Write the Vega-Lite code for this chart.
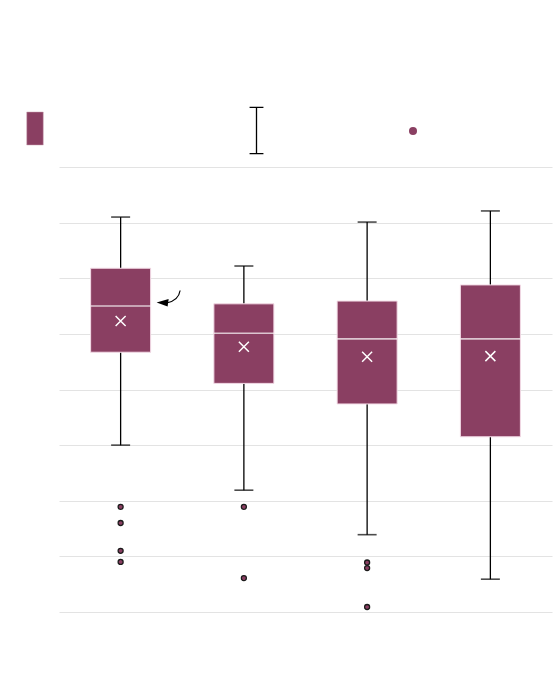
{
  "$schema": "https://vega.github.io/schema/vega-lite/v6.json",
  "width": 493,
  "height": 445,
  "autosize": {"type": "none"},
  "padding": {"left": 59, "top": 167, "right": 8, "bottom": 66},
  "background": "white",
  "config": {"view": {"stroke": null}},
  "datasets": {
    "boxes": [
      {"group": "A", "lo": 3.00, "q1": 4.67, "median": 5.50, "q3": 6.18, "hi": 7.10, "mean": 5.23},
      {"group": "B", "lo": 2.19, "q1": 4.11, "median": 5.01, "q3": 5.54, "hi": 6.22, "mean": 4.77},
      {"group": "C", "lo": 1.39, "q1": 3.74, "median": 4.91, "q3": 5.59, "hi": 7.01, "mean": 4.59},
      {"group": "D", "lo": 0.59, "q1": 3.15, "median": 4.91, "q3": 5.88, "hi": 7.21, "mean": 4.60}
    ],
    "outliers": [
      {"group": "A", "value": 1.89},
      {"group": "A", "value": 1.60},
      {"group": "A", "value": 1.10},
      {"group": "A", "value": 0.90},
      {"group": "B", "value": 1.89},
      {"group": "B", "value": 0.61},
      {"group": "C", "value": 0.89},
      {"group": "C", "value": 0.79},
      {"group": "C", "value": 0.09}
    ]
  },
  "encoding": {
    "x": {"field": "group", "type": "nominal", "axis": null, "scale": {"domain": ["A", "B", "C", "D"], "paddingInner": 0, "paddingOuter": 0}},
    "y": {"type": "quantitative", "scale": {"domain": [0, 8], "nice": false, "zero": true},
      "axis": {"labels": false, "ticks": false, "domain": false, "grid": true, "gridColor": "#e3e3e3", "gridWidth": 1, "values": [0,1,2,3,4,5,6,7,8], "title": null}}
  },
  "layer": [
    {
      "data": {"name": "boxes"},
      "mark": {"type": "rule", "color": "black", "strokeWidth": 1.3},
      "encoding": {
        "y": {"field": "lo", "type": "quantitative"},
        "y2": {"field": "q1"},
        "strokeDash": {"datum": "Whiskers", "scale": {"range": [[1, 0]]},
          "legend": {"orient": "none", "legendX": 180, "legendY": -54, "title": null, "labelExpr": "''",
            "symbolType": "M-0.42,-1.4H0.42M0,-1.4V1.4M-0.42,1.4H0.42", "symbolSize": 1089,
            "symbolStrokeColor": "black", "symbolFillColor": "transparent", "symbolStrokeWidth": 1.3, "symbolDash": [1, 0]}}
      }
    },
    {
      "data": {"name": "boxes"},
      "mark": {"type": "rule", "color": "black", "strokeWidth": 1.3},
      "encoding": {
        "y": {"field": "q3", "type": "quantitative"},
        "y2": {"field": "hi"}
      }
    },
    {
      "data": {"name": "boxes"},
      "mark": {"type": "tick", "color": "black", "thickness": 1.6, "size": 19},
      "encoding": {"y": {"field": "lo", "type": "quantitative"}}
    },
    {
      "data": {"name": "boxes"},
      "mark": {"type": "tick", "color": "black", "thickness": 1.6, "size": 19},
      "encoding": {"y": {"field": "hi", "type": "quantitative"}}
    },
    {
      "data": {"name": "boxes"},
      "mark": {"type": "bar", "width": 60, "stroke": "#f3dbe6", "strokeWidth": 1, "fillOpacity": 1},
      "encoding": {
        "y": {"field": "q1", "type": "quantitative"},
        "y2": {"field": "q3"},
        "color": {"datum": "Box", "scale": {"range": ["#8a3f62"]},
          "legend": {"orient": "none", "legendX": -41, "legendY": -55.5, "title": null, "labelExpr": "''",
            "symbolType": "M-0.5,-1H0.5V1H-0.5Z", "symbolSize": 1089, "symbolFillColor": "#8a3f62",
            "symbolStrokeColor": "#c9a0b3", "symbolStrokeWidth": 0.5}}
      }
    },
    {
      "data": {"name": "boxes"},
      "mark": {"type": "tick", "color": "white", "thickness": 1.6, "size": 60},
      "encoding": {"y": {"field": "median", "type": "quantitative"}}
    },
    {
      "data": {"name": "boxes"},
      "mark": {"type": "point", "shape": "M-1,-1L1,1M-1,1L1,-1", "size": 100, "filled": false, "stroke": "white", "strokeWidth": 1.5, "opacity": 1},
      "encoding": {"y": {"field": "mean", "type": "quantitative"}}
    },
    {
      "data": {"name": "outliers"},
      "mark": {"type": "point", "filled": true, "fill": "#8a3f62", "stroke": "#1a1a1a", "strokeWidth": 1.3, "size": 25, "opacity": 1},
      "encoding": {
        "y": {"field": "value", "type": "quantitative"},
        "shape": {"datum": "Outliers", "scale": {"range": ["circle"]},
          "legend": {"orient": "none", "legendX": 349, "legendY": -41, "title": null, "labelExpr": "''",
            "symbolSize": 64, "symbolFillColor": "#8a3f62", "symbolStrokeWidth": 0, "symbolOpacity": 1}}
      }
    },
    {
      "data": {"values": [{"group": "A", "value": 5.6}]},
      "mark": {"type": "point", "shape": "M59.5,-10 Q58,0 46,2.5", "size": 4, "filled": false, "stroke": "black", "strokeWidth": 1.2, "opacity": 1},
      "encoding": {"y": {"field": "value", "type": "quantitative"}}
    },
    {
      "data": {"values": [{"group": "A", "value": 5.6}]},
      "mark": {"type": "point", "shape": "M36,2 L48,-1.5 L47,6 Z", "size": 4, "filled": true, "fill": "black", "strokeWidth": 0, "opacity": 1},
      "encoding": {"y": {"field": "value", "type": "quantitative"}}
    }
  ]
}
